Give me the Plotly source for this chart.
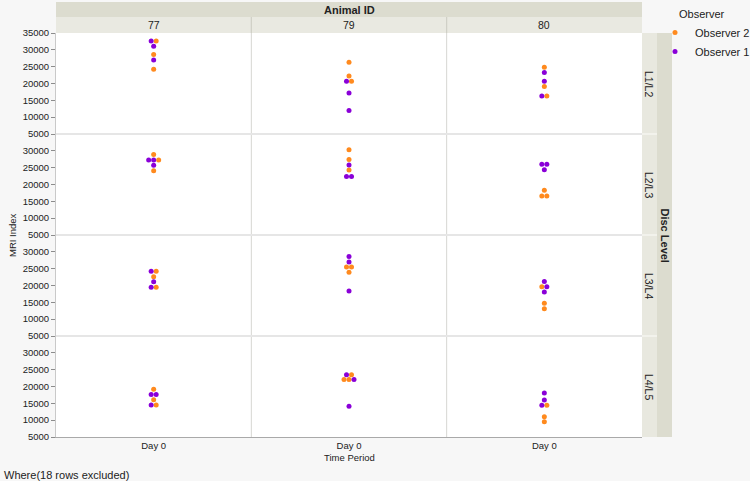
import plotly.graph_objects as go
from plotly.subplots import make_subplots

# ---------------- data ----------------
animals = ["77", "79", "80"]
disc_levels = ["L1/L2", "L2/L3", "L3/L4", "L4/L5"]
time_periods = ["Day 0"]
observers = ["Observer 2", "Observer 1"]          # legend order

# MRI Index values, one list per disc level (same order as disc_levels)
observer_1 = {
    "77": [[32600, 31100, 27000], [27300, 27300, 25700], [24200, 21100, 19500], [17600, 17600, 14500]],
    "79": [[20700, 17200, 12000], [25800, 22400, 22400], [28600, 27000, 18400], [23500, 22100, 14100]],
    "80": [[23300, 20700, 16300], [26000, 26000, 24400], [21200, 19600, 18100], [18100, 16000, 14400]],
}
observer_2 = {
    "77": [[32600, 28600, 24200], [28900, 27300, 24100], [24200, 22600, 19500], [19200, 16100, 14500]],
    "79": [[26300, 22200, 20700], [30300, 27400, 24300], [25500, 25500, 23900], [23500, 22100, 22100]],
    "80": [[24800, 19100, 16300], [18300, 16600, 16600], [19600, 14700, 13100], [14400, 11000, 9500]],
}
# tied groups where Observer 2 rows come first in the jitter order
observer_2_first = [("79", "L4/L5", 22100), ("80", "L3/L4", 19600)]

y_ticks_top = [5000, 10000, 15000, 20000, 25000, 30000, 35000]
y_ticks = [5000, 10000, 15000, 20000, 25000, 30000]

# ---------------- style ----------------
COLORS = {"Observer 2": "#FF8A1E", "Observer 1": "#8A00D8"}
FONT = "Liberation Sans, Arial, Helvetica, sans-serif"
TXT = "#222222"
W, H = 750, 481
ML, MR, MT, MB = 56, 108, 33, 44
PW = W - ML - MR
PH = H - MT - MB
COL_PX = PW / 3
X_RANGE = [-1, 1]
DOT_STEP = 5 * (X_RANGE[1] - X_RANGE[0]) / COL_PX   # 5 px between tied dots


def px_x(px):
    return (px - ML) / PW


def px_y(py):
    return (H - MB - py) / PH


fig = make_subplots(rows=4, cols=3, horizontal_spacing=0, vertical_spacing=0)

for r, disc in enumerate(disc_levels):
    for c, animal in enumerate(animals):
        recs = [(v, "Observer 1") for v in observer_1[animal][r]] + \
               [(v, "Observer 2") for v in observer_2[animal][r]]
        groups = {}
        for i, (v, o) in enumerate(recs):
            groups.setdefault(v, []).append(i)
        offs = [0.0] * len(recs)
        for v, idxs in groups.items():
            if (animal, disc, v) in observer_2_first:
                idxs = sorted(idxs, key=lambda i: 0 if recs[i][1] == "Observer 2" else 1)
            n = len(idxs)
            for k, i in enumerate(idxs):
                offs[i] = (k - (n - 1) / 2) * DOT_STEP
        for obs in observers:
            xs = [offs[i] for i in range(len(recs)) if recs[i][1] == obs]
            ys = [recs[i][0] for i in range(len(recs)) if recs[i][1] == obs]
            fig.add_trace(go.Scatter(
                x=xs, y=ys, mode="markers", name=obs, legendgroup=obs,
                showlegend=(r == 0 and c == 0),
                marker=dict(color=COLORS[obs], size=5, line=dict(width=0)),
                hovertemplate=f"{obs}<br>Animal {animal}, {disc}<br>%{{y}}<extra></extra>",
            ), row=r + 1, col=c + 1)

        fig.update_xaxes(range=X_RANGE, tickvals=[0], ticktext=time_periods,
                         showgrid=False, zeroline=False, ticks="",
                         showticklabels=(r == 3),
                         showline=(r == 3), linecolor="#a9a9a9", linewidth=1,
                         tickfont=dict(size=9.5, color=TXT, family=FONT),
                         row=r + 1, col=c + 1)
        fig.update_yaxes(range=[5000, 35000],
                         tickvals=(y_ticks_top if r == 0 else y_ticks), tickformat="d",
                         showgrid=False, zeroline=False,
                         ticks=("outside" if c == 0 else ""), ticklen=4, tickcolor="#8c8c8c",
                         showticklabels=(c == 0),
                         showline=(c == 0), linecolor="#c9c9c9", linewidth=1,
                         tickfont=dict(size=9.5, color=TXT, family=FONT),
                         row=r + 1, col=c + 1)

shapes = []
# separators inside the plot area
for k in (1, 2):
    shapes.append(dict(type="line", xref="paper", yref="paper", x0=k / 3, x1=k / 3, y0=0, y1=px_y(17),
                       line=dict(color="#d6d6d2", width=1), layer="above"))
for k in (1, 2, 3):
    shapes.append(dict(type="line", xref="paper", yref="paper", x0=0, x1=1, y0=k / 4, y1=k / 4,
                       line=dict(color="#e6e6e6", width=2), layer="above"))
# top group band and column strips
shapes.append(dict(type="rect", xref="paper", yref="paper", x0=0, x1=1, y0=px_y(17), y1=px_y(2),
                   fillcolor="#dcdccf", line=dict(width=0), layer="below"))
for c in range(3):
    shapes.append(dict(type="rect", xref="paper", yref="paper", x0=c / 3, x1=(c + 1) / 3,
                       y0=1, y1=px_y(17), fillcolor="#e9e9e1", line=dict(width=0), layer="below"))
# right row strips and group band
for r in range(4):
    shapes.append(dict(type="rect", xref="paper", yref="paper", x0=1, x1=px_x(657),
                       y0=1 - (r + 1) / 4, y1=1 - r / 4, fillcolor="#e8e8df", line=dict(width=0), layer="below"))
for k in (1, 2, 3):
    shapes.append(dict(type="line", xref="paper", yref="paper", x0=1, x1=px_x(657), y0=k / 4, y1=k / 4,
                       line=dict(color="#f2f2ec", width=2), layer="above"))
shapes.append(dict(type="rect", xref="paper", yref="paper", x0=px_x(657), x1=px_x(672), y0=0, y1=1,
                   fillcolor="#dcdccf", line=dict(width=0), layer="below"))
for k in (1, 2):
    shapes.append(dict(type="line", xref="paper", yref="paper", x0=k / 3, x1=k / 3, y0=1, y1=px_y(17),
                       line=dict(color="#cfcfc4", width=1), layer="above"))


def ann(text, x, y, size, angle=0, xanchor="center"):
    return dict(text=text, x=x, y=y, xref="paper", yref="paper", showarrow=False,
                xanchor=xanchor, yanchor="middle", textangle=angle,
                font=dict(size=size, color=TXT, family=FONT))


annotations = [ann("<b>Animal ID</b>", 0.5, px_y(9.5), 11)]
for c, a in enumerate(animals):
    annotations.append(ann(a, (c + 0.5) / 3, px_y(25), 10.5))
for r, d in enumerate(disc_levels):
    annotations.append(ann(d, px_x(649.5), 1 - (r + 0.5) / 4, 10.5, angle=90))
annotations.append(ann("<b>Disc Level</b>", px_x(664.5), 0.5, 11, angle=90))
annotations.append(ann("MRI Index", px_x(12), 0.5, 9.5, angle=-90))
annotations.append(ann("Time Period", 0.5, px_y(457), 9.5))
annotations.append(ann("Where(18 rows excluded)", px_x(2), px_y(475), 11, xanchor="left"))
annotations.append(ann("Observer", px_x(677), px_y(14), 11, xanchor="left"))

fig.update_layout(
    width=W, height=H,
    margin=dict(l=ML, r=MR, t=MT, b=MB),
    paper_bgcolor="#f7f7f7", plot_bgcolor="#ffffff",
    font=dict(family=FONT, color=TXT, size=10),
    shapes=shapes, annotations=annotations,
    legend=dict(font=dict(size=11, color=TXT, family=FONT),
                xref="container", yref="container", x=655 / W, y=1 - 18 / H,
                xanchor="left", yanchor="top", bgcolor="rgba(0,0,0,0)",
                itemsizing="trace", tracegroupgap=0),
    showlegend=True,
)

fig.write_html("out.html")
